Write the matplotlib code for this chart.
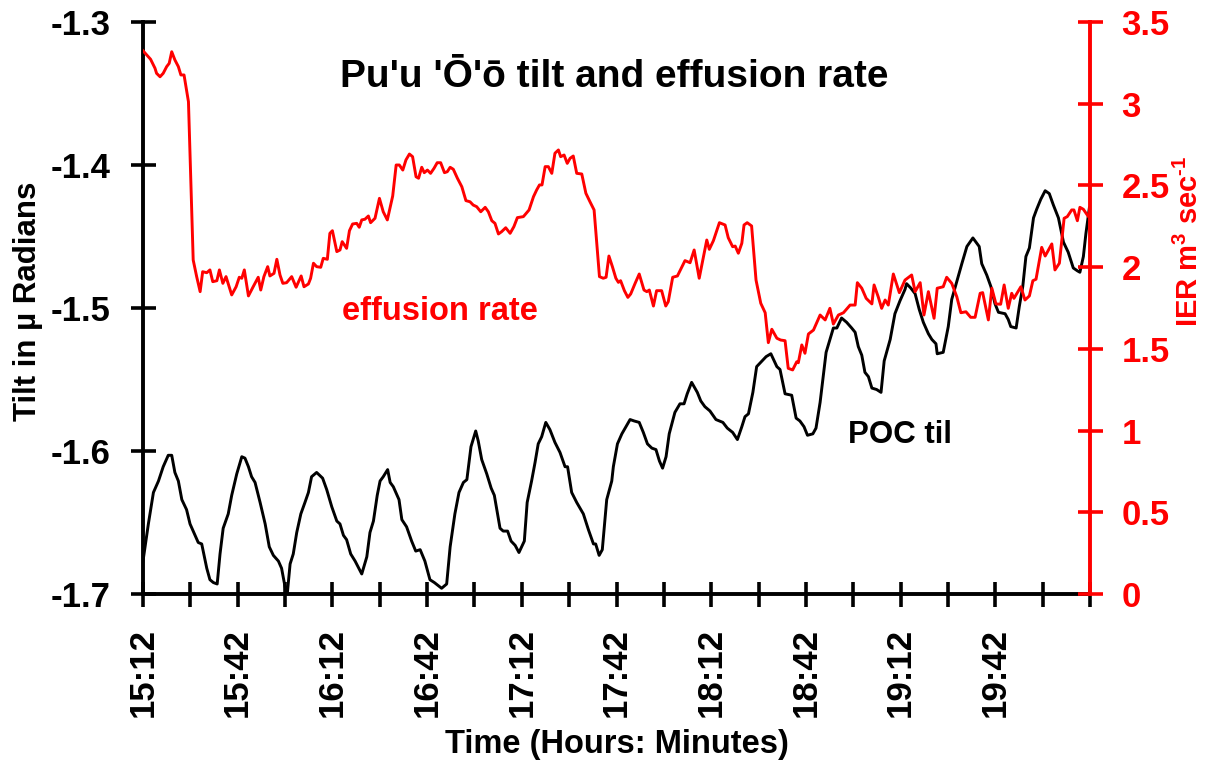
import numpy as np
import matplotlib
matplotlib.use('Agg')
import matplotlib.pyplot as plt

# ---------------- data ----------------
# time in minutes after 15:12
ier_t = [0, 1.2, 2.4, 3.8, 4.3, 5.4, 6.4, 7.5, 8.3, 9.1, 10.1, 11.2, 12.0, 13.0, 14.4,
         15.9, 17.0, 18.1, 18.9, 20.2, 21.2, 22.1, 23.4, 24.2, 25.3, 26.3, 28.1, 29.5, 30.5,
         31.3, 32.1, 33.4, 34.9, 36.5, 37.3, 38.3, 39.5, 40.2, 41.5, 42.4, 43.4, 44.3, 45.5,
         47.1, 48.5, 50.1, 51.0, 52.4, 53.1, 54.0, 55.0, 56.3, 57.1, 58.4, 59.2, 60.0, 61.4,
         62.4, 63.1, 64.5, 65.4, 66.4, 67.7, 68.5, 69.3, 70.3, 71.4, 72.1, 73.5, 74.9, 76.1,
         77.4, 79.1, 80.2, 81.2, 82.3, 83.3, 84.4, 85.4, 86.5, 87.3, 88.3, 89.1, 90.1, 91.1,
         92.2, 93.2, 94.3, 95.5, 96.4, 97.3, 98.3, 99.6, 101.0, 102.3, 103.6, 104.6, 105.7,
         107.0, 108.4, 109.4, 110.5, 111.5, 112.6, 113.6, 114.9, 116.3, 117.5, 118.6, 120.5,
         122.3, 123.7, 124.7, 125.6, 126.4, 127.4, 128.4, 129.5, 130.5, 131.6, 132.3, 133.4,
         134.4, 135.3, 136.3, 137.4, 139.0, 140.3, 141.6, 142.9, 143.5, 144.6, 145.8, 146.7,
         147.6, 148.7, 149.8, 150.6, 151.3, 152.5, 153.6, 154.5, 155.9, 157.2, 158.7, 159.6,
         160.4, 161.7, 162.7, 164.3, 165.6, 166.4, 167.8, 169.3, 171.7, 173.3, 174.6, 176.2,
         178.6, 179.4, 180.7, 182.6, 184.4, 185.4, 186.8, 187.6, 188.6, 189.7, 190.4, 191.4,
         192.8, 194.2, 195.7, 197.1, 198.1, 199.2, 200.8, 202.0, 203.4, 204.4, 205.8, 207.1,
         207.6, 208.7, 209.7, 210.8, 212.4, 214.5, 216.1, 217.6, 218.7, 220.3, 221.9, 224.0,
         225.6, 226.3, 227.7, 229.1, 230.9, 231.6, 232.9, 234.0, 235.1, 236.1, 237.7, 239.6,
         241.4, 243.5, 244.6, 246.2, 247.4, 248.8, 250.6, 251.6, 253.5, 254.6, 256.2, 257.8,
         259.1, 260.7, 262.2, 263.6, 265.2, 266.0, 267.8, 268.9, 270.2, 271.7, 272.8, 274.1,
         275.2, 275.9, 278.1, 279.4, 280.8, 281.9, 282.9, 284.7, 285.8, 287.9, 288.9, 290.3,
         291.8, 292.8, 294.2, 294.9, 296.0, 296.8, 297.9, 299.5, 300.0]

ier_v = [3.324, 3.298, 3.272, 3.217, 3.186, 3.165, 3.186, 3.227, 3.247, 3.318, 3.268, 3.227,
         3.176, 3.176, 3.012,
         2.044, 1.942, 1.850, 1.972, 1.966, 1.983, 1.911, 1.917, 1.983, 1.901, 1.942, 1.830,
         1.880, 1.938, 1.932, 1.983, 1.824, 1.880, 1.938, 1.860, 1.942, 2.003, 1.946, 1.962,
         2.048, 1.952, 1.901, 1.905, 1.942, 1.877, 1.946, 1.880, 1.897, 1.932, 2.024, 2.003,
         1.999, 2.054, 2.048, 2.207, 2.223, 2.095, 2.105, 2.156, 2.115, 2.223, 2.264, 2.268,
         2.244, 2.289, 2.293, 2.313, 2.272, 2.299, 2.421, 2.339, 2.289, 2.435, 2.625, 2.625,
         2.594, 2.656, 2.692, 2.676, 2.553, 2.544, 2.611, 2.578, 2.594, 2.574, 2.605, 2.639,
         2.639, 2.578, 2.584, 2.611, 2.599, 2.544, 2.492, 2.407, 2.400, 2.380, 2.370, 2.339,
         2.366, 2.339, 2.284, 2.268, 2.203, 2.217, 2.241, 2.207, 2.248, 2.303, 2.309, 2.350,
         2.431, 2.472, 2.503, 2.503, 2.615, 2.615, 2.574, 2.697, 2.717, 2.676, 2.686, 2.635,
         2.666, 2.680, 2.574, 2.570, 2.452, 2.400, 2.350, 2.207, 1.942, 1.932, 1.938, 2.068,
         2.003, 1.932, 1.907, 1.917, 1.856, 1.815, 1.836, 1.901, 1.958, 1.860, 1.850, 1.860,
         1.762, 1.856, 1.856, 1.762, 1.789, 1.938, 1.946, 2.040, 2.027, 2.105, 1.932, 2.166,
         2.109, 2.162, 2.272, 2.258, 2.180, 2.125, 2.129, 2.085, 2.146, 2.258, 2.272, 2.252,
         1.921, 1.779, 1.721, 1.538, 1.620, 1.565, 1.554, 1.550, 1.381, 1.371, 1.421, 1.415,
         1.524, 1.473, 1.591, 1.615, 1.707, 1.677, 1.748, 1.652, 1.707, 1.721, 1.768, 1.768,
         1.905, 1.871, 1.809, 1.775, 1.891, 1.819, 1.748, 1.799, 1.768, 1.958, 1.844, 1.921,
         1.952, 1.850, 1.905, 1.707, 1.850, 1.687, 1.871, 1.880, 1.938, 1.901, 1.819, 1.721,
         1.727, 1.693, 1.693, 1.840, 1.844, 1.677, 1.871, 1.775, 1.773, 1.891, 1.748, 1.840,
         1.809, 1.880, 1.799, 1.824, 1.917, 1.926, 2.121, 2.068, 2.142, 1.983, 2.024, 2.299,
         2.309, 2.350, 2.350, 2.284, 2.366, 2.354, 2.309, 2.313]

tilt_t = [0, 1.7, 3.3, 4.9, 6.4, 8.0, 9.1, 10.1, 11.2, 12.3, 13.8, 14.9, 16.5, 17.5, 18.6,
          20.2, 21.2, 22.3, 23.5, 24.4, 25.4, 27.0, 28.1, 29.7, 31.3, 32.3, 33.4, 34.4, 35.5,
          37.1, 38.7, 40.0, 41.3, 42.9, 43.9, 45.0, 45.7, 46.6, 47.6, 48.7, 50.0, 51.3, 52.4,
          53.4, 55.0, 56.9, 58.2, 59.8, 61.4, 62.4, 63.5, 64.5, 65.8, 67.2, 69.3, 70.9, 71.9,
          73.0, 74.2, 75.1, 76.1, 77.5, 78.3, 79.3, 81.1, 82.0, 83.5, 85.1, 86.4, 87.8, 89.3,
          90.9, 92.3, 94.6, 96.2, 97.3, 98.8, 100.1, 101.5, 102.6, 103.9, 105.4, 106.2, 107.3,
          108.9, 110.3, 111.3, 113.1, 114.1, 115.5, 116.6, 117.9, 119.1, 120.8, 121.7, 123.1,
          124.2, 125.2, 126.3, 127.6, 128.9, 130.5, 132.1, 133.7, 134.5, 135.8, 137.4, 139.5,
          141.1, 142.7, 143.4, 144.5, 145.5, 146.9, 148.5, 149.0, 150.3, 151.7, 153.0, 154.3,
          155.6, 157.2, 158.5, 159.8, 161.2, 162.5, 163.6, 164.6, 165.7, 166.7, 168.5, 170.1,
          171.4, 172.4, 173.8, 175.6, 176.7, 178.0, 179.6, 181.5, 183.7, 185.1, 186.8, 188.3,
          189.7, 190.7, 191.8, 193.2, 194.4, 195.7, 197.4, 198.9, 200.8, 201.8, 203.4, 205.5,
          206.9, 208.1, 209.4, 210.5, 212.2, 213.2, 214.5, 216.4, 217.6, 218.7, 219.8, 221.3,
          222.9, 224.5, 225.6, 226.6, 227.7, 228.7, 229.8, 230.9, 232.4, 233.8, 234.8, 236.7,
          238.2, 239.8, 241.4, 241.9, 243.2, 244.6, 245.9, 247.2, 248.8, 249.9, 251.2, 251.6,
          253.5, 255.1, 256.2, 257.6, 259.4, 261.0, 262.9, 264.9, 265.7, 267.3, 268.6, 269.9,
          271.0, 273.1, 274.1, 274.9, 276.6, 277.6, 278.7, 279.7, 280.8, 282.1, 283.1, 284.4,
          285.8, 287.1, 288.4, 290.0, 291.6, 293.1, 294.7, 296.0, 296.8, 297.9, 298.7, 299.8]

tilt_v = [-1.677, -1.651, -1.629, -1.621, -1.611, -1.603, -1.603, -1.615, -1.621, -1.634,
          -1.641, -1.651, -1.659, -1.664, -1.665, -1.682, -1.690, -1.692, -1.693, -1.672,
          -1.654, -1.644, -1.631, -1.616, -1.604, -1.605, -1.611, -1.618, -1.622, -1.636,
          -1.651, -1.667, -1.673, -1.677, -1.682, -1.695, -1.700, -1.679, -1.672, -1.657,
          -1.644, -1.636, -1.629, -1.618, -1.615, -1.619, -1.627, -1.639, -1.649, -1.651,
          -1.659, -1.662, -1.672, -1.677, -1.686, -1.674, -1.657, -1.649, -1.631, -1.621,
          -1.618, -1.613, -1.622, -1.625, -1.634, -1.648, -1.653, -1.663, -1.670, -1.669,
          -1.677, -1.690, -1.692, -1.696, -1.693, -1.667, -1.644, -1.629, -1.622, -1.620,
          -1.597, -1.586, -1.593, -1.606, -1.616, -1.626, -1.631, -1.654, -1.656, -1.656,
          -1.663, -1.666, -1.671, -1.663, -1.636, -1.621, -1.608, -1.595, -1.590, -1.580,
          -1.585, -1.594, -1.601, -1.611, -1.611, -1.629, -1.636, -1.644, -1.655, -1.665,
          -1.665, -1.673, -1.669, -1.634, -1.621, -1.611, -1.595, -1.588, -1.583, -1.578,
          -1.579, -1.580, -1.587, -1.595, -1.598, -1.599, -1.607, -1.612, -1.604, -1.588,
          -1.573, -1.567, -1.567, -1.560, -1.552, -1.559, -1.565, -1.569, -1.572, -1.578,
          -1.580, -1.584, -1.587, -1.592, -1.583, -1.576, -1.574, -1.559, -1.541, -1.538,
          -1.534, -1.532, -1.541, -1.543, -1.560, -1.561, -1.577, -1.579, -1.583, -1.589,
          -1.588, -1.584, -1.566, -1.531, -1.522, -1.514, -1.514, -1.507, -1.510, -1.514,
          -1.517, -1.527, -1.533, -1.545, -1.548, -1.556, -1.557, -1.559, -1.537, -1.522,
          -1.504, -1.495, -1.487, -1.483, -1.486, -1.490, -1.501, -1.510, -1.518, -1.522,
          -1.525, -1.532, -1.531, -1.513, -1.494, -1.483, -1.469, -1.457, -1.451, -1.457,
          -1.469, -1.477, -1.485, -1.497, -1.503, -1.504, -1.508, -1.513, -1.514, -1.499,
          -1.485, -1.464, -1.458, -1.437, -1.431, -1.424, -1.418, -1.420, -1.428, -1.437,
          -1.454, -1.461, -1.472, -1.474, -1.475, -1.464, -1.448, -1.430]

x_tick_labels = ["15:12", "15:42", "16:12", "16:42", "17:12",
                 "17:42", "18:12", "18:42", "19:12", "19:42"]
tilt_ticks = [-1.7, -1.6, -1.5, -1.4, -1.3]
ier_ticks = [0, 0.5, 1, 1.5, 2, 2.5, 3, 3.5]

assert len(ier_t) == len(ier_v)
assert len(tilt_t) == len(tilt_v)

# ---------------- style ----------------
plt.rcParams['font.family'] = ['Liberation Sans', 'DejaVu Sans']
plt.rcParams['font.weight'] = 'bold'
plt.rcParams['axes.unicode_minus'] = False
plt.rcParams['mathtext.fontset'] = 'custom'
plt.rcParams['mathtext.rm'] = 'Liberation Sans:bold'
plt.rcParams['mathtext.it'] = 'Liberation Sans:bold'
plt.rcParams['mathtext.bf'] = 'Liberation Sans:bold'
plt.rcParams['mathtext.default'] = 'rm'

W, H = 1216, 763
RED = '#ff0000'
fig = plt.figure(figsize=(W / 100, H / 100), dpi=100)
L, R, T, B = 143, 1090, 22, 594
ax = fig.add_axes([L / W, 1 - B / H, (R - L) / W, (B - T) / H])

ax.plot(tilt_t, tilt_v, color='black', lw=2.1, solid_joinstyle='round')
ax.set_xlim(0, 300)
ax.set_ylim(-1.7, -1.3)
ax.set_yticks(tilt_ticks)
ax.set_yticklabels([f"{v:.1f}" for v in tilt_ticks])

xt = np.arange(0, 301, 15)
ax.set_xticks(xt)
lab = []
for m in xt:
    i = int(m) // 30
    lab.append(x_tick_labels[i] if (m % 30 == 0 and i < len(x_tick_labels)) else "")
ax.set_xticklabels(lab, rotation=90)

for s in ['top', 'right']:
    ax.spines[s].set_visible(False)
for s in ['left', 'bottom']:
    ax.spines[s].set_linewidth(2.8)
    ax.spines[s].set_color('black')

ax.tick_params(axis='y', direction='inout', length=18, width=2.6, labelsize=25, pad=14.5)
ax.tick_params(axis='x', direction='inout', length=18, width=2.6, labelsize=25, pad=15.5)

ax2 = ax.twinx()
ax2.plot(ier_t, ier_v, color=RED, lw=2.1, solid_joinstyle='round')
ax2.set_ylim(0, 3.5)
ax2.set_yticks(ier_ticks)
ax2.set_yticklabels([f"{v:g}" for v in ier_ticks])
for s in ['top', 'left', 'bottom']:
    ax2.spines[s].set_visible(False)
ax2.spines['right'].set_color(RED)
ax2.spines['right'].set_linewidth(2.8)
ax2.tick_params(axis='y', direction='inout', length=18, width=2.6, labelsize=25,
                pad=13.8, colors=RED)
ax2.set_xlim(0, 300)

# ---------------- texts ----------------
fig.text(614 / W, 1 - 77 / H, "Pu'u 'Ō'ō tilt and effusion rate", fontsize=28,
         fontweight='bold', ha='center', va='center')
fig.text(440 / W, 1 - 311 / H, "effusion rate", fontsize=23.5, fontweight='bold',
         color=RED, ha='center', va='center')
fig.text(848 / W, 1 - 435 / H, "POC til", fontsize=22.5, fontweight='bold',
         color='black', ha='left', va='center')
fig.text(617 / W, 1 - 745 / H, "Time (Hours: Minutes)", fontsize=23.5,
         fontweight='bold', ha='center', va='center')
fig.text(28 / W, 1 - 301 / H, "Tilt in µ Radians", fontsize=22.5, fontweight='bold',
         rotation=90, ha='center', va='center')
fig.text(1189 / W, 1 - 241 / H, r"IER m$^{3}$ sec$^{\text{-}1}$", fontsize=21,
         fontweight='bold', color=RED, rotation=90, ha='center', va='center')

fig.savefig('out.png', dpi=100)
